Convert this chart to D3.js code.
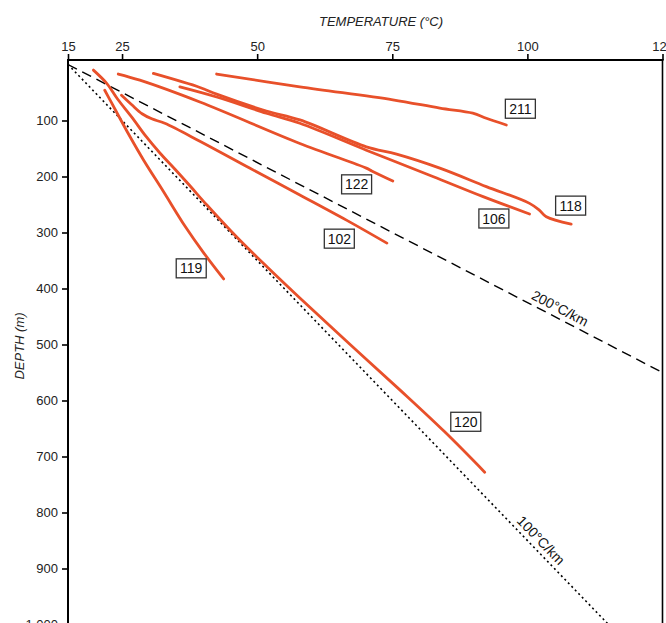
<!DOCTYPE html>
<html><head><meta charset="utf-8">
<script src="https://cdn.jsdelivr.net/npm/d3@7"></script>
<style>body{margin:0;background:#fff}svg{display:block}</style>
</head><body>
<svg id="c" width="666" height="623"></svg>
<script>
// ---- data ----
const tempTicks = [15, 25, 50, 75, 100, 125];
const depthTicks = [100, 200, 300, 400, 500, 600, 700, 800, 900, 1000];
const surfaceTemp = 15;
const gradients = [200, 100];              // °C/km reference lines
const gradientLabels = ["200°C/km", "100°C/km"];
const gradientLabelDepth = [451, 862];

// temperature (°C), depth (m) profiles per well
const well211 = [[42.5,17],[57.9,40],[75.1,63],[83.8,78],[89.9,87],[92.4,96],[96.1,108]];
const well122 = [[24.3,17],[28.3,28],[39.4,67],[57.9,141],[70.2,185],[71.2,190],[75.1,208]];
const well118 = [[30.8,16],[39.4,41],[42.5,53],[51.7,83],[57.9,99],[70.2,147],[75.8,160],[83.8,185],[92.4,218],[100.4,248],[102.2,260],[103.5,272],[108.1,285]];
const well106 = [[35.7,40],[42.5,58],[51.7,87],[57.9,105],[70.2,153],[82.5,200],[91.8,236],[100.4,267]];
const well102 = [[24.9,55],[26.8,72],[28.7,88],[30.5,97],[32.9,105],[39.4,137],[48.6,185],[57.9,233],[67.1,281],[74.0,319]];
const well119 = [[21.8,46],[23.1,69],[24.6,96],[26.3,126],[29.0,171],[32.6,226],[36.6,288],[40.0,335],[43.8,383]];
const well120 = [[19.7,10],[22.2,34],[24.2,62],[26.8,94],[29.4,128],[32.0,158],[34.8,187],[37.6,217],[40.7,251],[46.4,310],[52.0,363],[57.9,417],[67.1,499],[76.4,581],[84.7,656],[92.1,728]];

const wellNames = ["211", "122", "118", "106", "102", "119", "120"];
const wellLabelT = [98.7, 68.4, 108.0, 93.8, 65.2, 37.8, 88.6];
const wellLabelD = [79, 214, 252, 275, 311, 364, 638];

const wells = [well211, well122, well118, well106, well102, well119, well120];

// ---- chart ----
const W = 666, H = 623;
const svg = d3.select("#c");
const font = "'Liberation Sans', Arial, sans-serif";

const x = d3.scaleLinear().domain([15, 125]).range([68, 662.5]);
const y = d3.scaleLinear().domain([0, 1000]).range([64.5, 624.5]);
const pTop = 60, pLeft = 68, pRight = 662.5;

svg.append("defs").append("clipPath").attr("id", "plot")
  .append("rect").attr("x", pLeft).attr("y", pTop).attr("width", pRight - pLeft).attr("height", H - pTop);

const plot = svg.append("g").attr("clip-path", "url(#plot)");

// gradient reference lines
const gLine = d3.line().x(d => x(d[0])).y(d => y(d[1]));
gradients.forEach((g, i) => {
  const pts = [[surfaceTemp, 0], [surfaceTemp + g * 1.2, 1200]];
  plot.append("path").attr("d", gLine(pts))
    .attr("fill", "none").attr("stroke", "#000")
    .attr("stroke-width", i === 0 ? 1.4 : 1.6)
    .attr("stroke-dasharray", i === 0 ? "10,6" : "2,3");
  const d0 = gradientLabelDepth[i];
  const px = x(surfaceTemp + g * d0 / 1000), py = y(d0);
  const ang = Math.atan2(y(1000) - y(0), x(surfaceTemp + g) - x(surfaceTemp)) * 180 / Math.PI;
  svg.append("text").text(gradientLabels[i])
    .attr("transform", `translate(${px},${py}) rotate(${ang})`)
    .attr("dy", -5)
    .attr("text-anchor", "middle")
    .attr("font-family", font).attr("font-size", 14).attr("fill", "#111");
});

// well profiles
const wLine = d3.line().x(d => x(d[0])).y(d => y(d[1])).curve(d3.curveCatmullRom.alpha(0.5));
wells.forEach(w => {
  plot.append("path").attr("d", wLine(w))
    .attr("fill", "none").attr("stroke", "#e8502a")
    .attr("stroke-width", 2.8).attr("stroke-linecap", "round").attr("stroke-linejoin", "round");
});

// well labels
wellNames.forEach((n, i) => {
  const cx = x(wellLabelT[i]), cy = y(wellLabelD[i]);
  const g = svg.append("g").attr("transform", `translate(${cx},${cy})`);
  g.append("rect").attr("x", -15).attr("y", -9.5).attr("width", 30).attr("height", 19)
    .attr("fill", "#fff").attr("stroke", "#333").attr("stroke-width", 1.3);
  g.append("text").text(n).attr("text-anchor", "middle").attr("dy", "0.36em")
    .attr("font-family", font).attr("font-size", 14).attr("fill", "#111");
});

// axes
const xAxis = d3.axisTop(x).tickValues(tempTicks).tickSize(6).tickSizeOuter(0).tickPadding(3);
const gx = svg.append("g").attr("transform", `translate(0,${pTop})`).call(xAxis);
const yAxis = d3.axisLeft(y).tickValues(depthTicks).tickSize(6).tickSizeOuter(0).tickPadding(4);
const gy = svg.append("g").attr("transform", `translate(${pLeft},0)`).call(yAxis);
[gx, gy].forEach(g => {
  g.select(".domain").remove();
  g.selectAll(".tick line").attr("stroke", "#000").attr("stroke-width", 1.6);
  g.selectAll(".tick text").attr("font-family", font).attr("font-size", 13).attr("fill", "#222");
});

// frame lines
svg.append("line").attr("x1", pLeft - 1).attr("x2", pRight + 1).attr("y1", pTop).attr("y2", pTop)
  .attr("stroke", "#000").attr("stroke-width", 2);
svg.append("line").attr("x1", pLeft).attr("x2", pLeft).attr("y1", pTop - 1).attr("y2", H)
  .attr("stroke", "#000").attr("stroke-width", 2);
svg.append("line").attr("x1", pRight).attr("x2", pRight).attr("y1", pTop - 1).attr("y2", H)
  .attr("stroke", "#000").attr("stroke-width", 1.6);

// axis titles
svg.append("text").text("TEMPERATURE (°C)")
  .attr("x", 381).attr("y", 26).attr("text-anchor", "middle")
  .attr("font-family", font).attr("font-size", 13).attr("font-style", "italic").attr("fill", "#222");
svg.append("text").text("DEPTH (m)")
  .attr("transform", "translate(24,346) rotate(-90)").attr("text-anchor", "middle")
  .attr("font-family", font).attr("font-size", 13).attr("font-style", "italic").attr("fill", "#222");
</script>
</body></html>
